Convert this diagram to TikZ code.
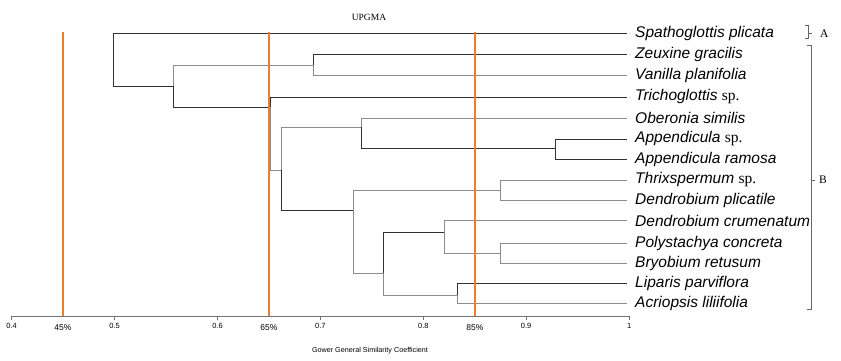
\documentclass[tikz,border=0pt]{standalone}
\usepackage{fontspec}
\setmainfont{Liberation Serif}
\setsansfont{Liberation Sans}
\usetikzlibrary{calc}
\definecolor{cutorange}{RGB}{237,125,49}

\begin{document}
\begin{tikzpicture}[x=1pt,y=-1pt,
  branch/.style={draw=black!80,line width=0.8pt},
  branchlt/.style={draw=black!45,line width=0.8pt},
  cutline/.style={draw=cutorange,line width=1.1pt},
  taxon/.style={anchor=west,inner sep=0pt,font=\sffamily\itshape\fontsize{15.5}{18}\selectfont},
  ticklabel/.style={inner sep=0pt,font=\sffamily\fontsize{7.5}{9}\selectfont},
  pctlabel/.style={inner sep=0pt,font=\sffamily\fontsize{8.5}{10}\selectfont},
  grouplabel/.style={anchor=west,inner sep=0pt,font=\fontsize{11.5}{13}\selectfont}]
  \useasboundingbox (0,0) rectangle (841,360);
  \newcommand{\spec}{{\rmfamily\upshape sp.}}
  % leaves
  \foreach \n/\y/\t in {spa/33.3/{Spathoglottis plicata},zeu/54.3/{Zeuxine gracilis},
      van/75/{Vanilla planifolia},tri/97/{Trichoglottis \spec},obe/118/{Oberonia similis},
      app/139/{Appendicula \spec},apr/159.3/{Appendicula ramosa},thr/180/{Thrixspermum \spec},
      dpl/200.3/{Dendrobium plicatile},dcr/220.7/{Dendrobium crumenatum},
      pol/243.3/{Polystachya concreta},bry/263.3/{Bryobium retusum},
      lip/283.3/{Liparis parviflora},acr/303.3/{Acriopsis liliifolia}}{
    \coordinate (\n) at (627,\y);
    \node[taxon] (\n-lb) at (635,\y) {\t};
  }
  % clusters
  \coordinate (r) at (113.3,60);
  \coordinate (n1) at (173,86.3);
  \coordinate (n2) at (313.7,65);
  \coordinate (n3) at (270,107.3);
  \coordinate (n4) at (281,170);
  \coordinate (n5) at (361.3,127.3);
  \coordinate (n6) at (555.7,148.7);
  \coordinate (n7) at (353,210.7);
  \coordinate (n8) at (500.3,190.3);
  \coordinate (n9) at (383.3,273.3);
  \coordinate (n10) at (444.3,232.3);
  \coordinate (n11) at (500,253.3);
  \coordinate (n12) at (457,295);
  \foreach \c/\p/\s in {n1/r/branch,spa/r/branch,n2/n1/branchlt,n3/n1/branch,
      zeu/n2/branch,van/n2/branchlt,tri/n3/branch,n4/n3/branchlt,
      n5/n4/branchlt,n7/n4/branch,obe/n5/branchlt,n6/n5/branch,
      app/n6/branch,apr/n6/branch,n8/n7/branchlt,n9/n7/branchlt,
      thr/n8/branchlt,dpl/n8/branchlt,n12/n9/branchlt,n10/n9/branch,
      dcr/n10/branchlt,n11/n10/branchlt,pol/n11/branchlt,bry/n11/branchlt,
      lip/n12/branch,acr/n12/branchlt}
    \draw[\s] (\c) -| (\p);
  % axis
  \coordinate (ax0) at (11.7,316);
  \coordinate (ax1) at (629,316);
  \draw[black!55,line width=0.7pt] (ax0) -- (ax1);
  \foreach \v/\lb in {0.4/0.4,0.5/0.5,0.6/0.6,0.7/0.7,0.8/0.8,0.9/0.9,1/1}{
    \draw[black!55,line width=0.7pt] ({11.7+(\v-0.4)*1029},316) -- ++(0,4);
    \node[ticklabel] at ({11.7+(\v-0.4)*1029},326.3) {\lb};
  }
  % cut levels
  \foreach \x/\pc in {63/45,269/65,475/85}{
    \coordinate (cut\pc) at (\x,32);
    \coordinate (cut\pc-b) at (\x,316);
    \draw[cutline] (cut\pc) -- (cut\pc-b);
    \node[pctlabel] (pc\pc) at (\x,327.5) {\pc\%};
  }
  \node[font=\fontsize{9.5}{11}\selectfont] (title) at (369,17) {UPGMA};
  \node[font=\sffamily\fontsize{7.2}{9}\selectfont] (xlab) at (370,350.5) {Gower General Similarity Coefficient};
  % groups
  \draw[black!60,line width=0.7pt] (805,25) -- (808,25) -- (808,38) -- (805,38)
    (808,33) -- (812,33);
  \node[grouplabel] (gA) at (820,34) {A};
  \draw[black!60,line width=0.7pt] (807,45) -- (811.5,45) -- (811.5,309) -- (807,309)
    (811.5,180) -- (814.5,180);
  \node[grouplabel] (gB) at (819,180) {B};
\end{tikzpicture}
\end{document}
